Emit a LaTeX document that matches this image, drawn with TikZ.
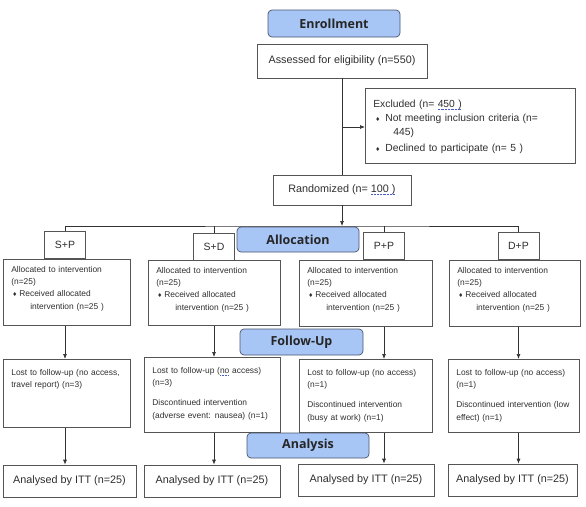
\documentclass[tikz,border=0pt]{standalone}
\usepackage{fontspec}
\setmainfont{Liberation Sans}
\newfontfamily\headfont{Open Sans}
\newfontfamily\symfont{DejaVu Sans}
\usetikzlibrary{arrows.meta}

\definecolor{stageblue}{RGB}{168,198,245}
\definecolor{stageedge}{RGB}{72,84,110}
\definecolor{boxedge}{RGB}{85,85,85}
\definecolor{linkgray}{RGB}{50,50,50}
\definecolor{squigblue}{RGB}{70,90,200}

% spell-check underline and list bullet
\newsavebox{\squigbox}
\newcommand{\squig}[1]{\sbox{\squigbox}{#1}\rlap{\textcolor{squigblue}{\raisebox{-2.2pt}{\hbox to \wd\squigbox{\xleaders\hbox{\rule{0.9pt}{0.6pt}\kern0.5pt}\hfil}}}}\usebox{\squigbox}}
\newcommand{\itm}{\hspace*{1pt}\makebox[7pt][l]{\symfont\fontsize{5.5}{5}\selectfont ♦}}
\newcommand{\toptext}[2]{\parbox[t][#1][t]{\linewidth}{\raggedright #2}}

\tikzset{
  stage/.style={draw=stageedge, fill=stageblue, rounded corners=4pt, line width=0.7pt,
    font=\headfont\bfseries\fontsize{12.5}{14}\selectfont, text=black!85, inner sep=0pt},
  bigbox/.style={draw=boxedge, line width=0.7pt, font=\fontsize{10.8}{13}\selectfont,
    text=black!82, inner sep=0pt},
  armbox/.style={draw=boxedge, line width=0.7pt, font=\fontsize{10.5}{12}\selectfont,
    text=black!82, minimum width=41pt, minimum height=27pt, inner sep=0pt},
  infobox/.style={draw=boxedge, line width=0.7pt, anchor=north west, inner xsep=8pt,
    inner ysep=7pt, align=left, text=black!82, font=\fontsize{8.4}{12.2}\selectfont},
  joinline/.style={draw=linkgray, line width=0.7pt},
  flow/.style={joinline, -{Latex[length=5pt,width=4pt]}},
}

\begin{document}
\begin{tikzpicture}[x=1pt,y=-1pt]
	\useasboundingbox (0,0) rectangle (586,506);

	% Enrollment
	\node[stage, minimum width=132pt, minimum height=27pt] (enrol) at (334,23.5) {Enrollment};
	\node[bigbox, minimum width=170pt, minimum height=34pt] (assess) at (342,61) {Assessed for eligibility (n=550)};
	\node[infobox, inner ysep=12pt, text width=194pt, font=\fontsize{10.3}{14}\selectfont] (excl) at (365,88) {\toptext{51pt}{%
		Excluded (n= \squig{450 )}\\
		\hspace*{2pt}\makebox[10pt][l]{\symfont\fontsize{5.5}{5}\selectfont ♦}Not meeting inclusion criteria (n=\\
		\hspace*{20pt}445)\\[2pt]
		\hspace*{2pt}\makebox[10pt][l]{\symfont\fontsize{5.5}{5}\selectfont ♦}Declined to participate (n= 5 )}};
	\node[bigbox, minimum width=138pt, minimum height=30pt] (rand) at (342,190) {Randomized (n= \squig{100 )}};

	\coordinate (exclfork) at (342,127);
	\draw[joinline] (assess) -- (rand);
	\draw[flow] (exclfork) -- (exclfork -| excl.west);

	% Allocation
	\coordinate (split) at (342,226);
	\node[armbox] (sp) at (65,244.5) {S+P};
	\node[armbox] (sd) at (214,246.5) {S+D};
	\node[armbox] (pp) at (384,246) {P+P};
	\node[armbox] (dp) at (518.5,246) {D+P};
	\node[stage, minimum width=122pt, minimum height=25pt] (allocation) at (298,239.5) {Allocation};

	\draw[flow] (rand) -- (split);
	\draw[joinline] (sp.north) |- (split) -| (dp.north);
	\draw[joinline] (sd.north) -- (sd.north |- split);
	\draw[joinline] (pp.north) -- (pp.north |- split);

	\node[infobox, text width=111pt] (alloc1) at (3,259) {\toptext{52pt}{Allocated to intervention\\(n=25)\\\itm Received allocated\\\hspace*{19pt}intervention (n=25 )}};
	\node[infobox, text width=116pt] (alloc2) at (148,260) {\toptext{51pt}{Allocated to intervention\\(n=25)\\\itm Received allocated\\\hspace*{19pt}intervention (n=25 )}};
	\node[infobox, text width=117pt] (alloc3) at (299,260) {\toptext{52pt}{Allocated to intervention\\(n=25)\\\itm Received allocated\\\hspace*{19pt}intervention (n=25 )}};
	\node[infobox, text width=115pt] (alloc4) at (449,260) {\toptext{52pt}{Allocated to intervention\\(n=25)\\\itm Received allocated\\\hspace*{19pt}intervention (n=25 )}};

	% Follow-Up
	\node[stage, minimum width=123pt, minimum height=26pt] (followup) at (301.5,342) {Follow-Up};
	\node[infobox, inner ysep=10pt, text width=111pt] (follow1) at (3,359) {\toptext{48pt}{Lost to follow-up (no access,\\travel report) (n=3)}};
	\node[infobox, inner ysep=10pt, text width=120pt] (follow2) at (144,357) {\toptext{55pt}{Lost to follow-up (\squig{no} access)\\(n=3)\\[8pt]Discontinued intervention\\(adverse event: nausea) (n=1)}};
	\node[infobox, inner ysep=10pt, text width=117pt] (follow3) at (299,359) {\toptext{53pt}{Lost to follow-up (no access)\\(n=1)\\[8pt]Discontinued intervention\\(busy at work) (n=1)}};
	\node[infobox, inner ysep=10pt, text width=115pt] (follow4) at (448,359) {\toptext{53pt}{Lost to follow-up (no access)\\(n=1)\\[8pt]Discontinued intervention (low\\effect) (n=1)}};

	\foreach \i/\arm in {1/sp, 2/sd, 3/pp, 4/dp}
		\draw[flow] (alloc\i.south -| \arm) -- (follow\i.north -| \arm);

	% Analysis
	\node[stage, minimum width=122pt, minimum height=25pt] (analysis) at (308,445.5) {Analysis};
	\node[bigbox, minimum width=133pt, minimum height=32pt] (itt1) at (69.5,481) {Analysed by ITT (n=25)};
	\node[bigbox, minimum width=136pt, minimum height=32pt] (itt2) at (212,481) {Analysed by ITT (n=25)};
	\node[bigbox, minimum width=136pt, minimum height=32pt] (itt3) at (366,480) {Analysed by ITT (n=25)};
	\node[bigbox, minimum width=129pt, minimum height=32pt] (itt4) at (512.5,480) {Analysed by ITT (n=25)};

	\foreach \i/\arm in {1/sp, 2/sd, 3/pp, 4/dp}
		\draw[flow] (follow\i.south -| \arm) -- (itt\i.north -| \arm);
\end{tikzpicture}
\end{document}
